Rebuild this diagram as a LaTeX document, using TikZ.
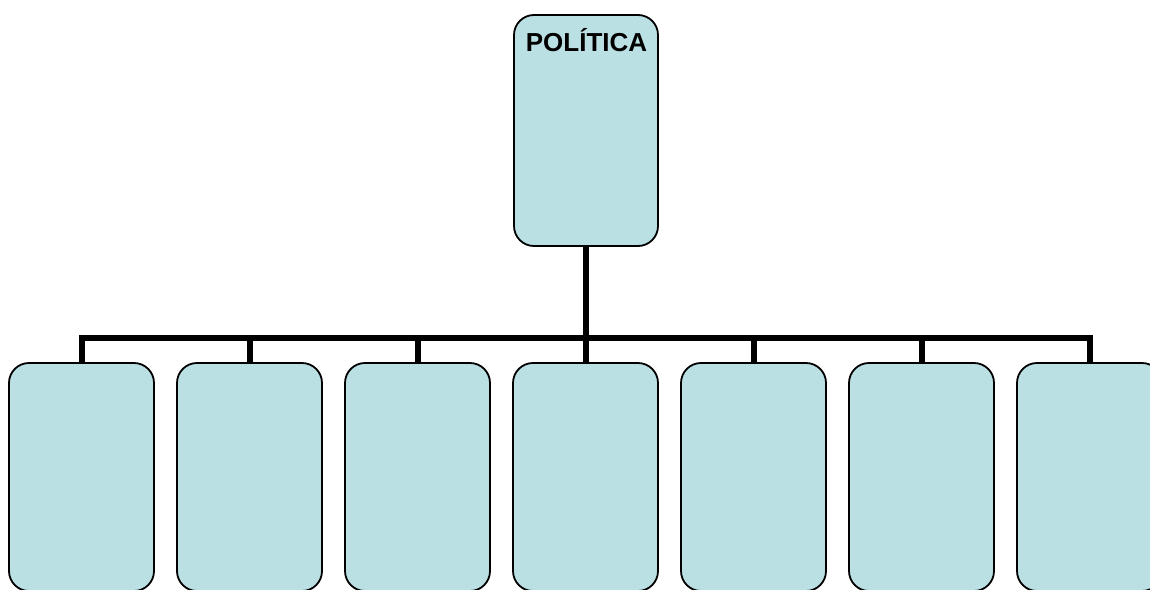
\documentclass[tikz,border=0pt]{standalone}
\usepackage{fontspec}
\setmainfont{Liberation Sans}
\definecolor{boxfill}{RGB}{187,224,227}
\begin{document}
\begin{tikzpicture}[x=1pt,y=-1pt,
  orgbox/.style={draw=black,line width=1.8pt,fill=boxfill,rounded corners=20pt,
    minimum width=#1,inner sep=0pt},
  conn/.style={line width=6pt,draw=black}]
\useasboundingbox (0,0) rectangle (1150,589);
\clip (0,0) rectangle (1150,589);
\node[orgbox=144pt,minimum height=231pt] (top) at (586,130.5) {};
\node[anchor=base,font=\bfseries\fontsize{26}{30}\selectfont] (title) at (586.5,51) {POLÍTICA};
\foreach \i/\x in {1/81.5,2/249.5,3/417.5,4/585.5,5/753.5,6/921.5,7/1089.5}{
  \node[orgbox=145pt,minimum height=228pt] (b\i) at (\x,477) {};
}
\coordinate (bar) at (586,338);
\draw[conn] (top.south) -- (top.south |- bar);
\draw[conn,line join=miter] (b1.north) -- (b1.north |- bar) -- (b7.north |- bar) -- (b7.north);
\foreach \i in {2,...,6}{
  \draw[conn] (b\i.north |- bar) -- (b\i.north);
}
\end{tikzpicture}
\end{document}
